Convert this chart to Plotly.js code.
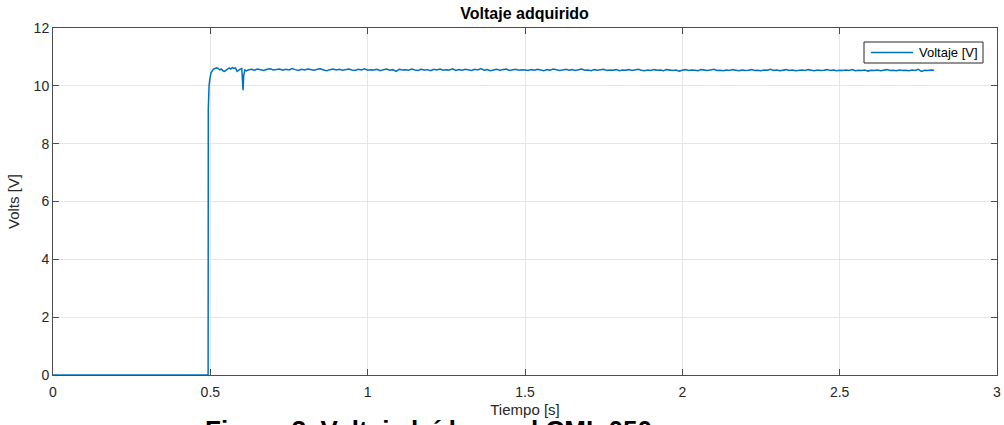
<!DOCTYPE html>
<html>
<head>
<meta charset="utf-8">
<script src="https://cdn.plot.ly/plotly-3.0.1.min.js"></script>
<style>html,body{margin:0;padding:0;background:#fff;overflow:hidden}#chart{width:1004px;height:425px}</style>
</head>
<body>
<div id="chart"></div>
<script>
// Rise and start-up transient
const timeStart = [0, 0.493, 0.4935, 0.494, 0.496, 0.498, 0.5, 0.502, 0.505, 0.51, 0.515, 0.52, 0.525, 0.53, 0.535, 0.54, 0.545, 0.55, 0.555, 0.56, 0.565, 0.57, 0.575, 0.58, 0.585, 0.59, 0.595, 0.6, 0.602, 0.604, 0.606, 0.608, 0.61, 0.615];
const voltStart = [0, 0, 9.2, 9.6, 10.0, 10.2, 10.35, 10.45, 10.5, 10.58, 10.6, 10.62, 10.6, 10.55, 10.58, 10.52, 10.5, 10.55, 10.6, 10.62, 10.58, 10.63, 10.6, 10.62, 10.5, 10.55, 10.58, 10.6, 10.3, 9.85, 10.35, 10.5, 10.55, 10.52];
// Steady state
const timeSteady = [
0.62,0.63,0.64,0.65,0.66,0.67,0.68,0.69,0.70,0.71,
0.72,0.73,0.74,0.75,0.76,0.77,0.78,0.79,0.80,0.81,
0.82,0.83,0.84,0.85,0.86,0.87,0.88,0.89,0.90,0.91,
0.92,0.93,0.94,0.95,0.96,0.97,0.98,0.99,1.00,1.01,
1.02,1.03,1.04,1.05,1.06,1.07,1.08,1.09,1.10,1.11,
1.12,1.13,1.14,1.15,1.16,1.17,1.18,1.19,1.20,1.21,
1.22,1.23,1.24,1.25,1.26,1.27,1.28,1.29,1.30,1.31,
1.32,1.33,1.34,1.35,1.36,1.37,1.38,1.39,1.40,1.41,
1.42,1.43,1.44,1.45,1.46,1.47,1.48,1.49,1.50,1.51,
1.52,1.53,1.54,1.55,1.56,1.57,1.58,1.59,1.60,1.61,
1.62,1.63,1.64,1.65,1.66,1.67,1.68,1.69,1.70,1.71,
1.72,1.73,1.74,1.75,1.76,1.77,1.78,1.79,1.80,1.81,
1.82,1.83,1.84,1.85,1.86,1.87,1.88,1.89,1.90,1.91,
1.92,1.93,1.94,1.95,1.96,1.97,1.98,1.99,2.00,2.01,
2.02,2.03,2.04,2.05,2.06,2.07,2.08,2.09,2.10,2.11,
2.12,2.13,2.14,2.15,2.16,2.17,2.18,2.19,2.20,2.21,
2.22,2.23,2.24,2.25,2.26,2.27,2.28,2.29,2.30,2.31,
2.32,2.33,2.34,2.35,2.36,2.37,2.38,2.39,2.40,2.41,
2.42,2.43,2.44,2.45,2.46,2.47,2.48,2.49,2.50,2.51,
2.52,2.53,2.54,2.55,2.56,2.57,2.58,2.59,2.60,2.61,
2.62,2.63,2.64,2.65,2.66,2.67,2.68,2.69,2.70,2.71,
2.72,2.73,2.74,2.75,2.76,2.77,2.78,2.79,2.80];
const voltSteady = [
10.55,10.57,10.54,10.58,10.56,10.53,10.57,10.59,10.55,10.56,
10.58,10.54,10.57,10.55,10.60,10.56,10.53,10.57,10.55,10.58,
10.56,10.54,10.57,10.59,10.55,10.52,10.56,10.58,10.55,10.57,
10.54,10.56,10.58,10.55,10.53,10.57,10.55,10.59,10.54,10.56,
10.55,10.57,10.52,10.56,10.58,10.54,10.56,10.50,10.57,10.55,
10.56,10.54,10.58,10.55,10.53,10.57,10.55,10.56,10.52,10.57,
10.55,10.58,10.54,10.56,10.55,10.59,10.53,10.56,10.54,10.57,
10.55,10.53,10.57,10.55,10.60,10.54,10.56,10.52,10.55,10.57,
10.54,10.56,10.58,10.53,10.55,10.57,10.54,10.56,10.55,10.53,
10.56,10.54,10.57,10.55,10.52,10.56,10.54,10.58,10.55,10.53,
10.55,10.57,10.54,10.56,10.53,10.55,10.58,10.54,10.55,10.52,
10.56,10.54,10.55,10.57,10.53,10.55,10.54,10.56,10.52,10.55,
10.54,10.56,10.53,10.55,10.57,10.54,10.52,10.55,10.53,10.56,
10.54,10.55,10.52,10.56,10.54,10.53,10.55,10.51,10.54,10.56,
10.53,10.55,10.54,10.52,10.56,10.54,10.53,10.55,10.57,10.53,
10.54,10.52,10.55,10.53,10.56,10.54,10.52,10.55,10.53,10.54,
10.56,10.53,10.54,10.52,10.55,10.54,10.57,10.53,10.55,10.52,
10.54,10.56,10.53,10.55,10.52,10.54,10.55,10.53,10.56,10.54,
10.52,10.55,10.53,10.54,10.56,10.53,10.55,10.52,10.54,10.53,
10.55,10.53,10.56,10.52,10.54,10.53,10.55,10.51,10.54,10.53,
10.55,10.52,10.54,10.56,10.53,10.54,10.52,10.55,10.53,10.54,
10.52,10.55,10.53,10.57,10.50,10.54,10.53,10.55,10.54];
const xTicks = [0, 0.5, 1, 1.5, 2, 2.5, 3];
const xTickLabels = ['0', '0.5', '1', '1.5', '2', '2.5', '3'];
const yTicks = [0, 2, 4, 6, 8, 10, 12];
const seriesName = 'Voltaje [V]';
const chartTitle = 'Voltaje adquirido';
const xTitle = 'Tiempo [s]';
const yTitle = 'Volts [V]';
const caption = 'Figura 3. Voltaje leído en el CML 050';

const FONT = 'Liberation Sans, Arial, sans-serif';
const lineColor = '#0072BD';

const trace = {
  x: timeStart.concat(timeSteady),
  y: voltStart.concat(voltSteady),
  type: 'scatter', mode: 'lines', name: seriesName,
  line: {color: lineColor, width: 1.5}, showlegend: false
};
const axisCommon = {
  showline: true, mirror: 'ticks', linecolor: '#4d4d4d', linewidth: 1,
  ticks: 'inside', ticklen: 6, tickcolor: '#4d4d4d', tickwidth: 1,
  showgrid: true, gridcolor: '#e6e6e6', gridwidth: 1, zeroline: false,
  tickfont: {family: FONT, size: 14, color: '#262626'}
};
// paper-coordinate helpers for the legend box (plot area: x 53..997, y 28..375 px)
const px = v => (v - 53) / 944;
const py = v => (375 - v) / 347;
const layout = {
  width: 1004, height: 425,
  margin: {l: 53, r: 7, t: 28, b: 50, pad: 0},
  paper_bgcolor: '#ffffff', plot_bgcolor: '#ffffff',
  font: {family: FONT, color: '#262626'},
  title: {text: '<b>' + chartTitle + '</b>', x: 0.5225, xanchor: 'center', y: 0.968, yanchor: 'middle',
          font: {size: 16, color: '#000000'}},
  xaxis: Object.assign({}, axisCommon, {range: [0, 3], tickvals: xTicks, ticktext: xTickLabels,
          ticklabelstandoff: 4,
          title: {text: xTitle, standoff: 5, font: {size: 15, color: '#262626'}}}),
  yaxis: Object.assign({}, axisCommon, {range: [0, 12], tickvals: yTicks,
          title: {text: yTitle, standoff: 10, font: {size: 15, color: '#262626'}}}),
  showlegend: false,
  shapes: [
    {type: 'rect', xref: 'paper', yref: 'paper', x0: px(864), x1: px(983), y0: py(63), y1: py(42),
     line: {color: '#262626', width: 1}, fillcolor: '#ffffff', layer: 'above'},
    {type: 'line', xref: 'paper', yref: 'paper', x0: px(871), x1: px(913), y0: py(52.5), y1: py(52.5),
     line: {color: lineColor, width: 1.5}, layer: 'above'}
  ],
  annotations: [
    {text: seriesName, xref: 'paper', yref: 'paper', x: px(917), xanchor: 'left', y: py(52.5), yanchor: 'middle',
     showarrow: false, font: {size: 13, color: '#000000'}},
    {text: '<b>' + caption + '</b>', xref: 'paper', yref: 'paper',
     x: px(203), xanchor: 'left', y: py(413), yanchor: 'top', showarrow: false,
     font: {size: 26, color: '#000000'}}]
};
Plotly.newPlot('chart', [trace], layout, {displayModeBar: false, staticPlot: true});
</script>
</body>
</html>
